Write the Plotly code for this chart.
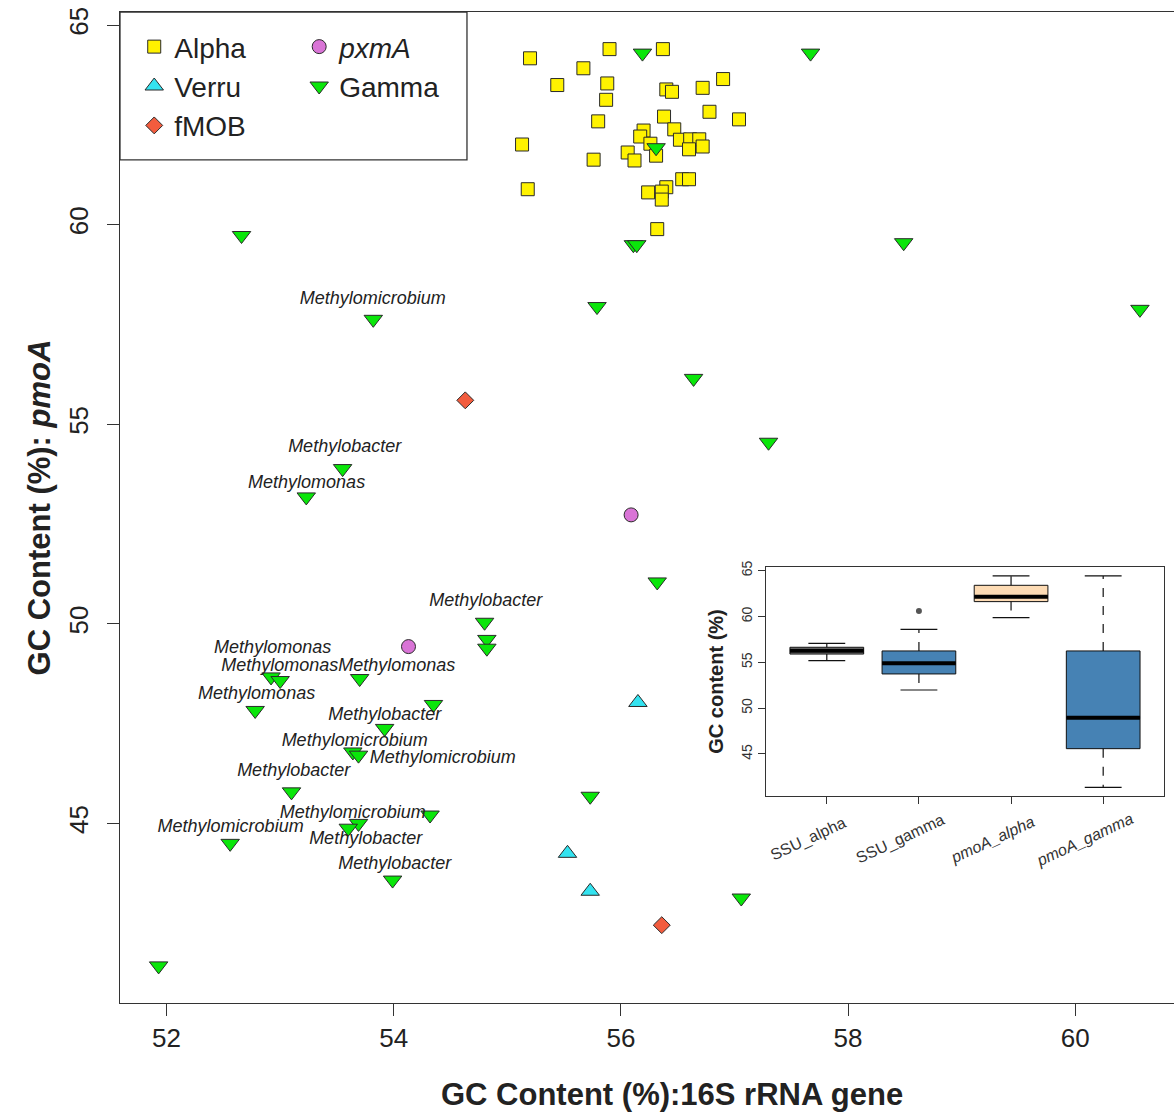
import plotly.graph_objects as go

FONT = "Arial, 'Liberation Sans', sans-serif"

# ---------------- main scatter data ----------------
alpha_x = [55.20, 55.90, 56.37, 55.67, 55.44, 55.88, 56.40, 56.45, 56.72, 56.90,
           55.87, 55.80, 56.38, 56.78, 57.04, 55.13, 56.20, 56.17, 56.47, 56.26,
           56.52, 56.61, 56.69, 56.72, 56.60, 56.06, 56.12, 56.31, 55.76, 55.18,
           56.24, 56.40, 56.36, 56.36, 56.54, 56.60, 56.32]
alpha_y = [64.17, 64.40, 64.40, 63.92, 63.50, 63.54, 63.39, 63.33, 63.43, 63.65,
           63.13, 62.59, 62.71, 62.83, 62.64, 62.01, 62.36, 62.21, 62.39, 62.03,
           62.13, 62.14, 62.14, 61.96, 61.89, 61.81, 61.61, 61.73, 61.63, 60.89,
           60.81, 60.94, 60.83, 60.63, 61.14, 61.14, 59.89]

gamma_x = [56.19, 57.67, 56.31, 56.11, 56.14, 52.66, 58.49, 60.57, 55.79, 53.82,
           56.64, 57.30, 53.55, 53.23, 56.32, 54.80, 54.82, 54.82, 52.92, 53.00,
           53.70, 52.78, 54.35, 53.92, 53.64, 53.69, 53.10, 54.32, 53.69, 53.60,
           52.56, 53.99, 51.93, 55.73, 57.06]
gamma_y = [64.30, 64.30, 61.93, 59.50, 59.50, 59.73, 59.55, 57.88, 57.95, 57.63,
           56.15, 54.55, 53.89, 53.18, 51.05, 50.04, 49.61, 49.39, 48.67, 48.58,
           48.63, 47.83, 47.98, 47.38, 46.79, 46.71, 45.79, 45.21, 45.00, 44.88,
           44.50, 43.58, 41.43, 45.68, 43.13]

verru_x = [56.15, 55.53, 55.73]
verru_y = [48.03, 44.25, 43.30]

fmob_x = [54.63, 56.36]
fmob_y = [55.60, 42.45]

pxma_x = [56.09, 54.13]
pxma_y = [52.73, 49.43]

# genus labels (data coordinates)
genus_text = ["Methylomicrobium", "Methylobacter", "Methylomonas", "Methylobacter",
              "Methylomonas", "Methylomonas", "Methylomonas", "Methylomonas",
              "Methylobacter", "Methylomicrobium", "Methylomicrobium", "Methylobacter",
              "Methylomicrobium", "Methylomicrobium", "Methylobacter", "Methylobacter"]
genus_x = [53.815, 53.568, 53.233, 54.811, 52.934, 52.996, 54.026, 52.793,
           53.921, 53.656, 54.432, 53.119, 53.639, 52.564, 53.753, 54.009]
genus_y = [58.125, 54.425, 53.525, 50.55, 49.375, 48.925, 48.925, 48.225,
           47.70, 47.05, 46.625, 46.30, 45.25, 44.90, 44.60, 43.975]

# ---------------- inset boxplot data ----------------
box_pos = [1, 2, 3, 4]
box_labels = ["SSU_alpha", "SSU_gamma", "<i>pmoA_alpha</i>", "<i>pmoA_gamma</i>"]
box_lo = [55.18, 51.98, 59.87, 41.36]
box_q1 = [55.90, 53.73, 61.62, 45.58]
box_med = [56.27, 54.90, 62.16, 48.96]
box_q3 = [56.64, 56.24, 63.40, 56.24]
box_hi = [57.07, 58.60, 64.42, 64.42]
box_fill = ["#7F7F7F", "#4682B4", "#FDDBB4", "#4682B4"]
outlier_pos = [2]
outlier_val = [60.6]

fig = go.Figure()
edge = dict(color="#2a2a2a", width=1)

fig.add_trace(go.Scatter(x=alpha_x, y=alpha_y, mode="markers", name="Alpha",
                         marker=dict(symbol="square", size=13, color="#FFF200", line=edge),
                         legend="legend"))
fig.add_trace(go.Scatter(x=verru_x, y=verru_y, mode="markers", name="Verru",
                         marker=dict(symbol="triangle-up", size=16, color="#33E3F0", line=edge),
                         legend="legend"))
fig.add_trace(go.Scatter(x=fmob_x, y=fmob_y, mode="markers", name="fMOB",
                         marker=dict(symbol="diamond", size=13, color="#F25C3E", line=edge),
                         legend="legend"))
fig.add_trace(go.Scatter(x=pxma_x, y=pxma_y, mode="markers", name="<i>pxmA</i>",
                         marker=dict(symbol="circle", size=14, color="#D974D6", line=edge),
                         legend="legend2"))
fig.add_trace(go.Scatter(x=gamma_x, y=gamma_y, mode="markers", name="Gamma",
                         marker=dict(symbol="triangle-down", size=16, color="#0AE60A", line=edge),
                         legend="legend2"))
fig.add_trace(go.Scatter(x=genus_x, y=genus_y, mode="text", text=genus_text,
                         textfont=dict(family=FONT, size=18, color="#222222", style="italic"),
                         showlegend=False, hoverinfo="skip"))

# ---------------- inset ----------------
for p, lo, q1, md, q3, hi, fc in zip(box_pos, box_lo, box_q1, box_med, box_q3, box_hi, box_fill):
    fig.add_trace(go.Box(x=[p], q1=[q1], median=[md], q3=[q3], lowerfence=[q1], upperfence=[q3],
                         width=0.8, fillcolor=fc, line=dict(color="#111111", width=1),
                         whiskerwidth=0, boxpoints=False, showlegend=False,
                         xaxis="x2", yaxis="y2", hoverinfo="skip"))

wx, wy, cx, cy, mx, my = [], [], [], [], [], []
for p, lo, q1, md, q3, hi in zip(box_pos, box_lo, box_q1, box_med, box_q3, box_hi):
    wx += [p, p, None, p, p, None]
    wy += [q3, hi, None, q1, lo, None]
    cx += [p - 0.2, p + 0.2, None, p - 0.2, p + 0.2, None]
    cy += [hi, hi, None, lo, lo, None]
    mx += [p - 0.4, p + 0.4, None]
    my += [md, md, None]

fig.add_trace(go.Scatter(x=wx, y=wy, mode="lines", line=dict(color="#111111", width=1.2, dash="dash"),
                         showlegend=False, xaxis="x2", yaxis="y2", hoverinfo="skip"))
fig.add_trace(go.Scatter(x=cx, y=cy, mode="lines", line=dict(color="#111111", width=1.2),
                         showlegend=False, xaxis="x2", yaxis="y2", hoverinfo="skip"))
fig.add_trace(go.Scatter(x=mx, y=my, mode="lines", line=dict(color="#000000", width=4),
                         showlegend=False, xaxis="x2", yaxis="y2", hoverinfo="skip"))
fig.add_trace(go.Scatter(x=outlier_pos, y=outlier_val, mode="markers",
                         marker=dict(size=6, color="#555555"),
                         showlegend=False, xaxis="x2", yaxis="y2", hoverinfo="skip"))

# inset category labels (rotated, like R's text(srt=25))
annotations = []
for p, lab in zip(box_pos, box_labels):
    annotations.append(dict(x=p - 0.2, xref="x2", y=-0.19, yref="y2 domain",
                            text=lab, textangle=-25, showarrow=False,
                            xanchor="center", yanchor="middle",
                            font=dict(size=16, color="#333333")))
annotations.append(dict(x=0.524, xref="paper", y=-0.0928, yref="paper",
                        text="<b>GC Content (%):16S rRNA gene</b>", showarrow=False,
                        xanchor="center", yanchor="middle",
                        font=dict(size=31, color="#222222")))

axis_col = "#333333"
fig.update_layout(
    width=1174, height=1113,
    margin=dict(l=120, r=0, t=12, b=110),
    paper_bgcolor="white", plot_bgcolor="white",
    font=dict(family=FONT, color="#222222"),
    xaxis=dict(range=[51.59, 60.87], tickvals=[52, 54, 56, 58, 60], automargin=False,
               showgrid=False, zeroline=False, showline=True, mirror=True,
               linecolor=axis_col, linewidth=1.3, ticks="outside", ticklen=12,
               tickwidth=1.3, tickcolor=axis_col,
               tickfont=dict(size=26, color="#222222")),
    yaxis=dict(range=[40.5, 65.33], tickvals=[45, 50, 55, 60, 65], automargin=False,
               showgrid=False, zeroline=False, showline=True, mirror=False,
               linecolor=axis_col, linewidth=1.3, ticks="outside", ticklen=12,
               tickwidth=1.3, tickcolor=axis_col, tickangle=-90, ticklabelstandoff=8,
               tickfont=dict(size=26, color="#222222"),
               title=dict(text="<b>GC Content (%): <i>pmoA</i></b>",
                          font=dict(size=31, color="#222222"), standoff=4)),
    xaxis2=dict(domain=[0.6129, 0.9905], anchor="y2", range=[0.34, 4.66], automargin=False,
                tickvals=box_pos, showticklabels=False,
                showgrid=False, zeroline=False, showline=True, mirror=True,
                linecolor=axis_col, linewidth=1, ticks="outside", ticklen=7,
                tickcolor=axis_col),
    yaxis2=dict(domain=[0.2089, 0.44], anchor="x2", range=[40.42, 65.4], automargin=False,
                tickvals=[45, 50, 55, 60, 65], tickangle=-90,
                showgrid=False, zeroline=False, showline=True, mirror=True,
                linecolor=axis_col, linewidth=1, ticks="outside", ticklen=7,
                tickcolor=axis_col, tickfont=dict(size=14, color="#333333"),
                title=dict(text="<b>GC content (%)</b>", font=dict(size=20, color="#222222"),
                           standoff=10)),
    legend=dict(x=0.0135, y=0.99, xanchor="left", yanchor="top",
                bgcolor="rgba(0,0,0,0)", font=dict(size=28, color="#222222"),
                itemsizing="trace", tracegroupgap=0),
    legend2=dict(x=0.17, y=0.99, xanchor="left", yanchor="top",
                 bgcolor="rgba(0,0,0,0)", font=dict(size=28, color="#222222"),
                 itemsizing="trace", tracegroupgap=0),
    shapes=[dict(type="rect", xref="paper", yref="paper", x0=0, x1=0.3292, y0=0.8507, y1=1.0,
                 line=dict(color=axis_col, width=1.3), fillcolor="rgba(0,0,0,0)")],
    annotations=annotations,
    showlegend=True,
)

fig.write_html("out.html", config={"displayModeBar": False},
               post_script="document.body.style.margin='0';document.body.style.overflow='hidden';")
